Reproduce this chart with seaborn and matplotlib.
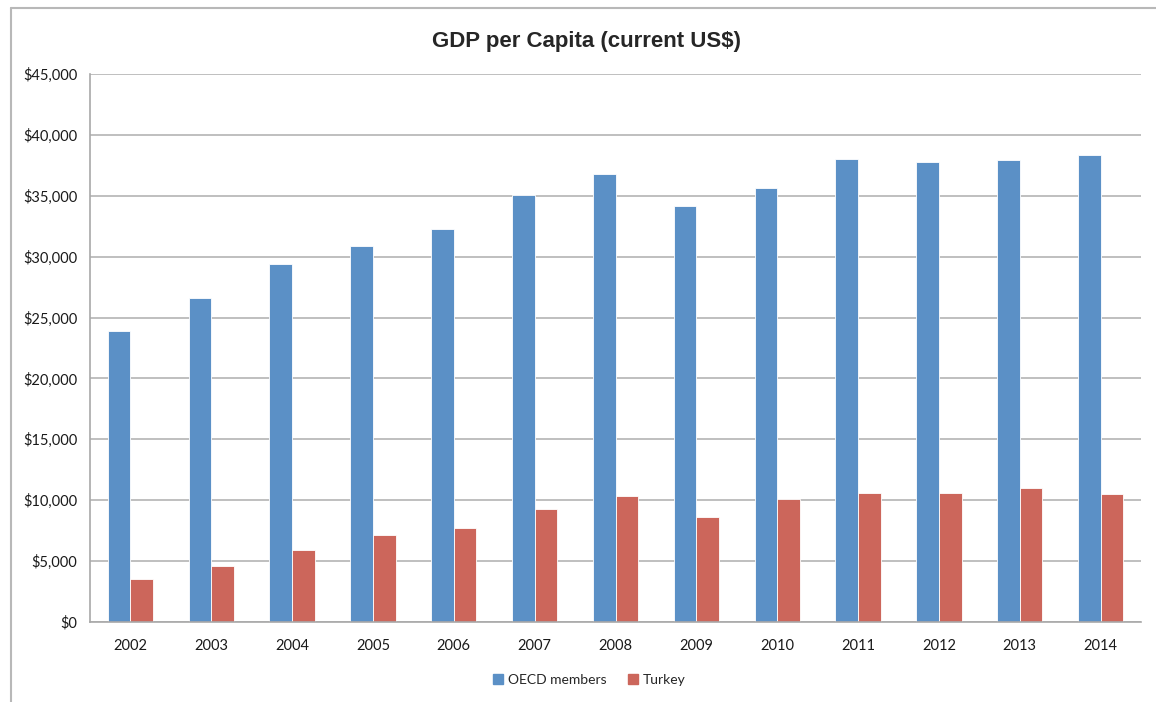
import pandas as pd
import numpy as np
import matplotlib
matplotlib.use("Agg")
import matplotlib.pyplot as plt
from matplotlib.lines import Line2D
from matplotlib.ticker import FuncFormatter, MultipleLocator
import seaborn as sns

# data
years = ["2002", "2003", "2004", "2005", "2006", "2007", "2008",
         "2009", "2010", "2011", "2012", "2013", "2014"]
oecd = [23900, 26600, 29400, 30900, 32300, 35100, 36800,
        34200, 35600, 38000, 37800, 37950, 38350]
turkey = [3520, 4610, 5890, 7140, 7690, 9280, 10380,
          8600, 10100, 10580, 10620, 11010, 10500]
series = ["OECD members", "Turkey"]
colors = ["#5B90C6", "#CC665B"]

df = pd.DataFrame({
    "year": years * 2,
    "gdp": oecd + turkey,
    "series": [series[0]] * len(years) + [series[1]] * len(years),
})

sns.set_theme(style="white")
plt.rcParams["font.family"] = ["Lato", "DejaVu Sans"]

fig = plt.figure(figsize=(11.56, 7.02), dpi=100)
ax = fig.add_axes([90 / 1156, 1 - 622 / 702, (1141 - 90) / 1156, (622 - 74) / 702])

sns.barplot(data=df, x="year", y="gdp", hue="series", palette=colors, saturation=1,
            width=0.56, edgecolor="white", linewidth=0.6, ax=ax, legend=False)

ax.set_ylim(0, 45000)
ax.set_xlim(-0.5, len(years) - 0.5)
ax.yaxis.set_major_locator(MultipleLocator(5000))
ax.yaxis.set_major_formatter(FuncFormatter(lambda v, p: f"${v:,.0f}"))
ax.grid(axis="y", color="#B4B4B4", linewidth=1.2)
ax.set_axisbelow(True)
ax.set_xlabel("")
ax.set_ylabel("")

for s in ["top", "right"]:
    ax.spines[s].set_visible(False)
for s in ["left", "bottom"]:
    ax.spines[s].set_color("#A8A8A8")
    ax.spines[s].set_linewidth(1.2)

# x ticks sit between categories
ax.set_xticks(np.arange(-0.5, len(years)), minor=True)
ax.tick_params(axis="x", which="major", length=0, pad=12, labelsize=10.5, colors="#1a1a1a")
ax.tick_params(axis="x", which="minor", length=5, width=1.2, color="#A8A8A8", direction="out")
ax.tick_params(axis="y", which="major", length=5, width=1.2, color="#A8A8A8",
               direction="out", labelsize=10.5, labelcolor="#1a1a1a", pad=4)

fig.text(586 / 1156, 1 - 42 / 702, "GDP per Capita (current US$)", ha="center", va="center",
         fontsize=16, fontweight="bold", family=["Liberation Sans", "DejaVu Sans"])

handles = [plt.Rectangle((0, 0), 1, 1, color=c) for c in colors]
fig.legend(handles, series, loc="center", bbox_to_anchor=(0.51, 1 - 680 / 702),
           ncol=2, frameon=False, fontsize=10, handlelength=0.7, handleheight=0.7,
           handletextpad=0.4, columnspacing=1.5)

# chart area frame (left and top edges visible)
fig.add_artist(Line2D([11 / 1156, 11 / 1156], [0, 1 - 8 / 702], color="#B8B8B8", lw=1.5))
fig.add_artist(Line2D([11 / 1156, 1], [1 - 8 / 702, 1 - 8 / 702], color="#B8B8B8", lw=1.5))

fig.savefig("out.png", dpi=100)
